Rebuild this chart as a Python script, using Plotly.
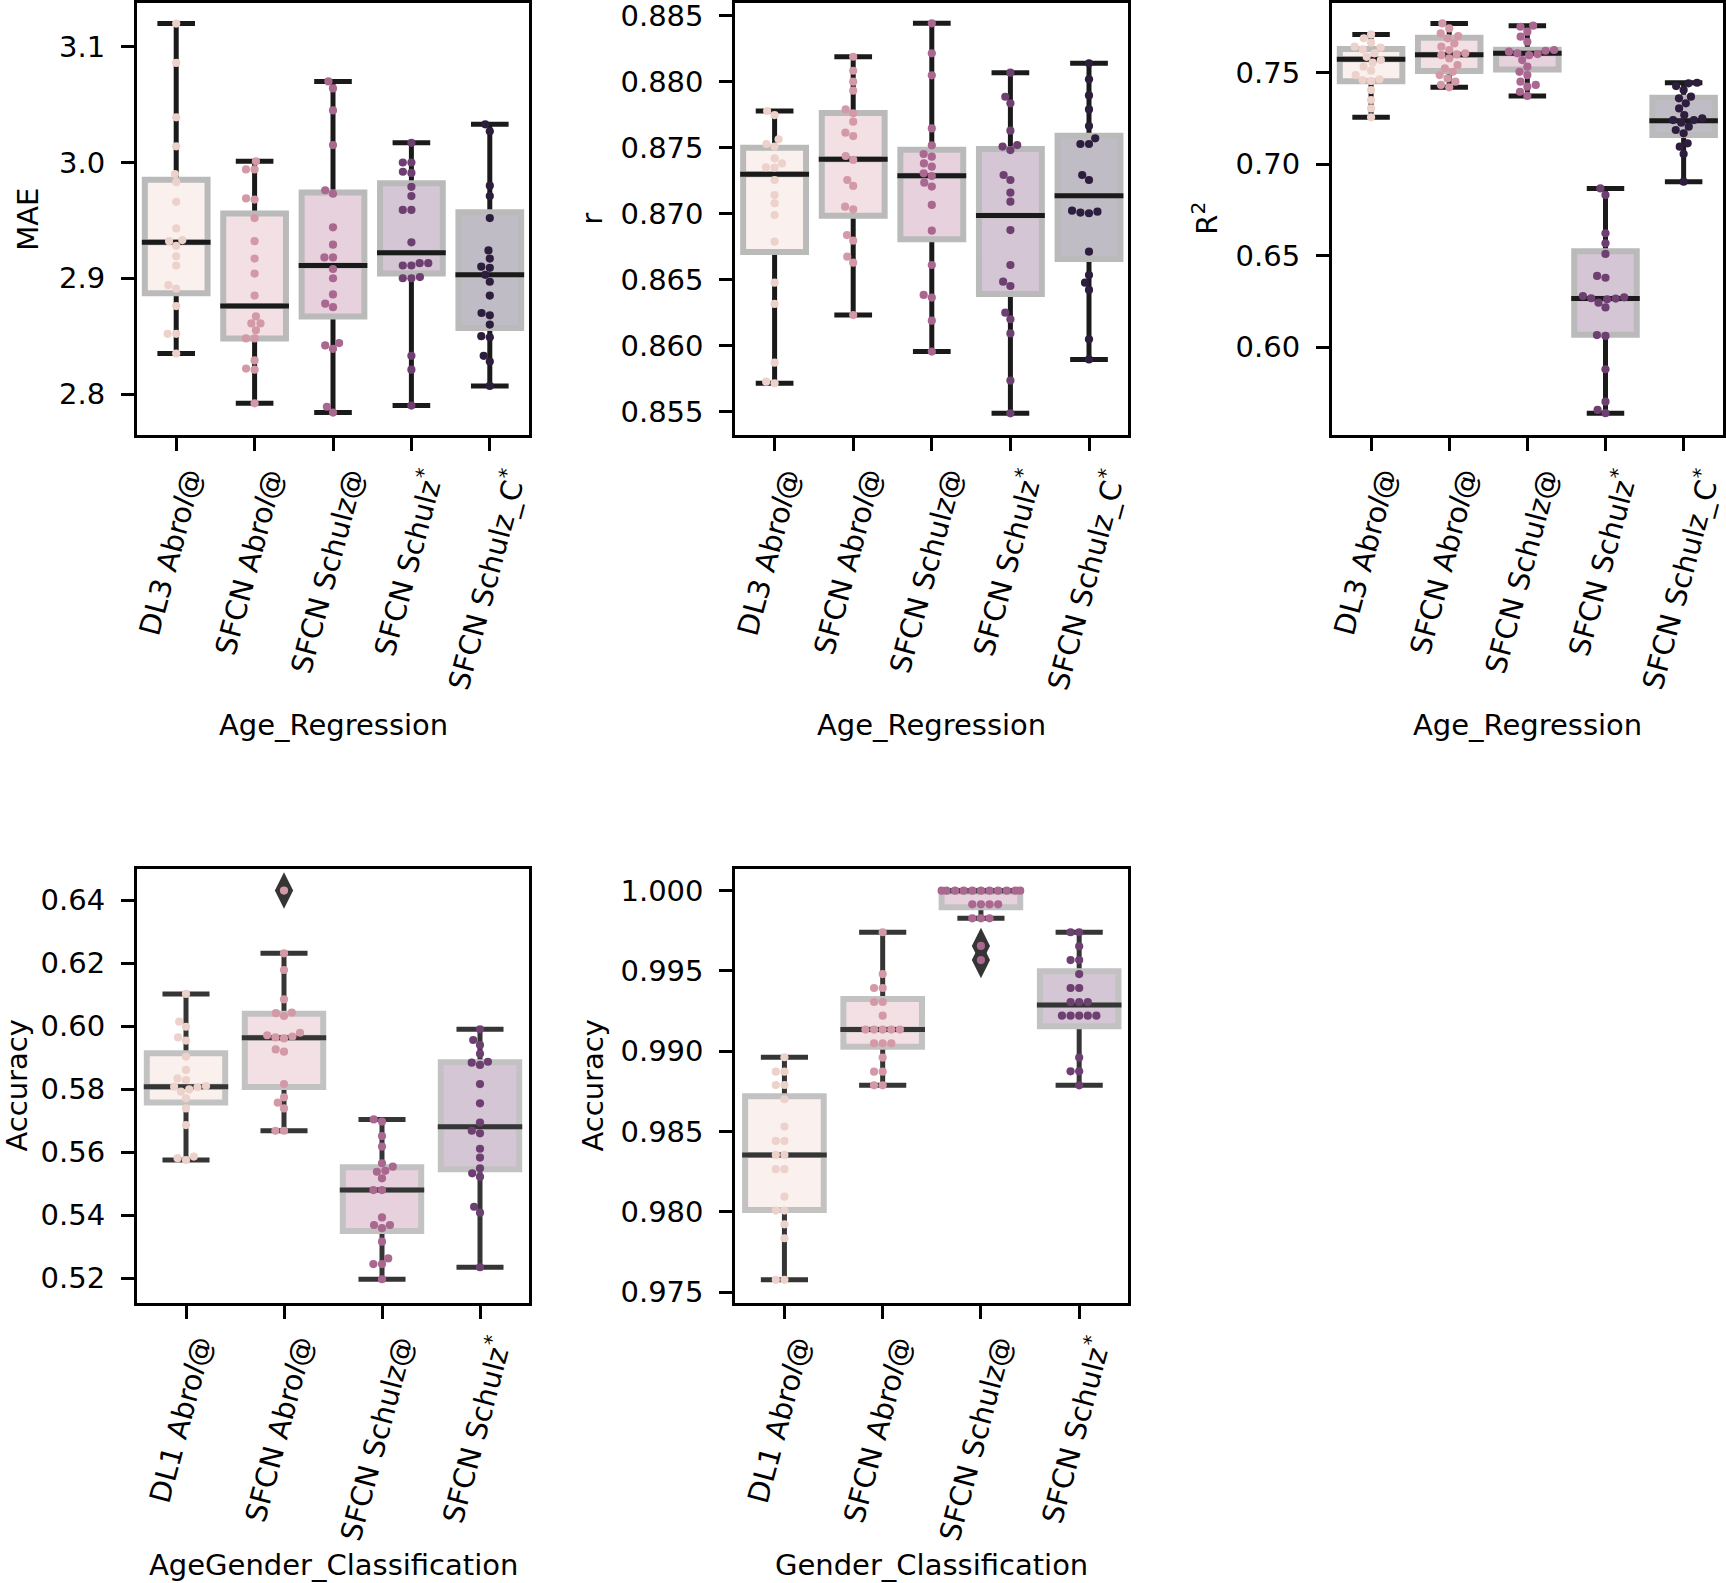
import numpy as np
import plotly.graph_objects as go

W, H = 1726, 1583
FONT = "DejaVu Sans"

# ---------------- category / tick labels ----------------
age_labels = ["DL3 Abro<i>l</i>@", "SFCN Abro<i>l</i>@", "SFCN Schulz@",
              "SFCN Schulz<sup>*</sup>", "SFCN Schulz_C<sup>*</sup>"]
ag_labels = ["DL1 Abro<i>l</i>@", "SFCN Abro<i>l</i>@", "SFCN Schulz@",
             "SFCN Schulz<sup>*</sup>"]
g_labels = ["DL1 Abro<i>l</i>@", "SFCN Abro<i>l</i>@", "SFCN Schulz@",
            "SFCN Schulz<sup>*</sup>"]

mae_ticks = [2.8, 2.9, 3.0, 3.1]
r_ticks = [0.855, 0.860, 0.865, 0.870, 0.875, 0.880, 0.885]
r2_ticks = [0.60, 0.65, 0.70, 0.75]
ag_ticks = [0.52, 0.54, 0.56, 0.58, 0.60, 0.62, 0.64]
g_ticks = [0.975, 0.980, 0.985, 0.990, 0.995, 1.000]

# ---------------- MAE (Age_Regression) ----------------
mae_dl3 = [3.120, 3.086, 3.039, 3.014, 2.990, 2.983, 2.966, 2.943, 2.933, 2.932,
           2.928, 2.919, 2.911, 2.894, 2.891, 2.876, 2.852, 2.852, 2.835]
mae_sfcn_abrol = [3.001, 2.994, 2.994, 2.969, 2.968, 2.952, 2.932, 2.917, 2.904, 2.885,
                  2.867, 2.861, 2.861, 2.855, 2.848, 2.848, 2.829, 2.822, 2.821, 2.792]
mae_sfcn_schulz_at = [3.070, 3.064, 3.045, 3.015, 2.976, 2.973, 2.944, 2.929, 2.918, 2.918,
                      2.908, 2.900, 2.886, 2.878, 2.875, 2.844, 2.842, 2.839, 2.789, 2.784]
mae_sfcn_schulz_star = [3.017, 3.000, 3.000, 2.992, 2.991, 2.979, 2.971, 2.959, 2.959, 2.931,
                        2.913, 2.913, 2.911, 2.911, 2.901, 2.900, 2.900, 2.833, 2.821, 2.790]
mae_sfcn_schulz_c = [3.033, 3.027, 2.980, 2.971, 2.952, 2.924, 2.917, 2.910, 2.909, 2.903,
                     2.897, 2.885, 2.870, 2.868, 2.860, 2.850, 2.849, 2.833, 2.828, 2.807]
mae_q1 = [2.887, 2.848, 2.867, 2.904, 2.857]
mae_med = [2.931, 2.876, 2.911, 2.922, 2.903]
mae_q3 = [2.985, 2.956, 2.974, 2.982, 2.957]
mae_lo = [2.835, 2.792, 2.784, 2.790, 2.807]
mae_hi = [3.120, 3.001, 3.070, 3.017, 3.033]

# ---------------- r (Age_Regression) ----------------
r_dl3 = [0.87778, 0.87747, 0.87563, 0.87528, 0.87508, 0.87419, 0.87381, 0.87351, 0.87349, 0.87255,
         0.87141, 0.87078, 0.86990, 0.86788, 0.86477, 0.86316, 0.85871, 0.85727, 0.85715]
r_sfcn_abrol = [0.88189, 0.88083, 0.88000, 0.87932, 0.87790, 0.87760, 0.87697, 0.87614, 0.87588, 0.87437,
                0.87407, 0.87255, 0.87210, 0.87053, 0.87033, 0.86838, 0.86795, 0.86674, 0.86629, 0.86232]
r_sfcn_schulz_at = [0.88442, 0.88215, 0.88048, 0.87646, 0.87518, 0.87452, 0.87432, 0.87381, 0.87356, 0.87306,
                    0.87285, 0.87235, 0.87205, 0.87066, 0.86871, 0.86611, 0.86384, 0.86364, 0.86189, 0.85955]
r_sfcn_schulz_star = [0.88068, 0.87886, 0.87836, 0.87629, 0.87520, 0.87508, 0.87482, 0.87293, 0.87255, 0.87159,
                      0.87091, 0.86876, 0.86611, 0.86485, 0.86452, 0.86250, 0.86200, 0.86093, 0.85735, 0.85487]
r_sfcn_schulz_c = [0.88139, 0.88018, 0.87896, 0.87790, 0.87664, 0.87571, 0.87528, 0.87528, 0.87293, 0.87255,
                   0.87023, 0.87015, 0.87008, 0.87003, 0.86712, 0.86535, 0.86477, 0.86422, 0.86048, 0.85896]
r_q1 = [0.86710, 0.86985, 0.86806, 0.86392, 0.86657]
r_med = [0.87298, 0.87412, 0.87288, 0.86987, 0.87136]
r_q3 = [0.87500, 0.87763, 0.87485, 0.87490, 0.87591]
r_lo = [0.85715, 0.86232, 0.85955, 0.85487, 0.85896]
r_hi = [0.87778, 0.88189, 0.88442, 0.88068, 0.88139]

# ---------------- R^2 (Age_Regression) ----------------
r2_dl3 = [0.7709, 0.7688, 0.7664, 0.7642, 0.7637, 0.7627, 0.7606, 0.7587, 0.7569, 0.7555,
          0.7533, 0.7511, 0.7487, 0.7464, 0.7460, 0.7454, 0.7405, 0.7351, 0.7305, 0.7256]
r2_sfcn_abrol = [0.7769, 0.7742, 0.7715, 0.7700, 0.7688, 0.7660, 0.7642, 0.7624, 0.7606, 0.7600,
                 0.7596, 0.7578, 0.7542, 0.7524, 0.7505, 0.7487, 0.7469, 0.7451, 0.7433, 0.7420]
r2_sfcn_schulz_at = [0.7757, 0.7751, 0.7724, 0.7697, 0.7669, 0.7624, 0.7620, 0.7615, 0.7606, 0.7602,
                     0.7596, 0.7569, 0.7533, 0.7505, 0.7487, 0.7451, 0.7433, 0.7424, 0.7396, 0.7373]
r2_sfcn_schulz_star = [0.6868, 0.6832, 0.6623, 0.6568, 0.6510, 0.6390, 0.6380, 0.6280, 0.6273, 0.6268,
                       0.6266, 0.6262, 0.6244, 0.6218, 0.6067, 0.6062, 0.5880, 0.5703, 0.5658, 0.5640]
r2_sfcn_schulz_c = [0.7445, 0.7442, 0.7427, 0.7405, 0.7369, 0.7360, 0.7333, 0.7305, 0.7269, 0.7251,
                    0.7241, 0.7241, 0.7227, 0.7205, 0.7187, 0.7169, 0.7114, 0.7096, 0.7056, 0.6905]
r2_q1 = [0.7453, 0.7509, 0.7518, 0.6069, 0.7160]
r2_med = [0.7573, 0.7598, 0.7606, 0.6266, 0.7238]
r2_q3 = [0.7629, 0.7691, 0.7626, 0.6524, 0.7363]
r2_lo = [0.7256, 0.7420, 0.7373, 0.5640, 0.6905]
r2_hi = [0.7709, 0.7769, 0.7757, 0.6868, 0.7445]

# ---------------- Accuracy (AgeGender_Classification) ----------------
ag_dl1 = [0.6102, 0.6014, 0.5998, 0.5964, 0.5954, 0.5903, 0.5861, 0.5834, 0.5829, 0.5810,
          0.5808, 0.5806, 0.5799, 0.5792, 0.5771, 0.5739, 0.5686, 0.5586, 0.5581, 0.5575]
ag_sfcn_abrol = [0.6430, 0.6231, 0.6178, 0.6085, 0.6043, 0.6041, 0.6032, 0.5979, 0.5971, 0.5967,
                 0.5964, 0.5961, 0.5926, 0.5919, 0.5816, 0.5774, 0.5757, 0.5739, 0.5668, 0.5668]
ag_sfcn_schulz_at = [0.5704, 0.5697, 0.5651, 0.5618, 0.5565, 0.5554, 0.5541, 0.5538, 0.5517, 0.5480,
                     0.5480, 0.5393, 0.5369, 0.5369, 0.5359, 0.5316, 0.5263, 0.5245, 0.5245, 0.5197]
ag_sfcn_schulz_star = [0.5990, 0.5956, 0.5940, 0.5912, 0.5887, 0.5884, 0.5877, 0.5816, 0.5755, 0.5694,
                       0.5668, 0.5660, 0.5611, 0.5583, 0.5549, 0.5533, 0.5522, 0.5427, 0.5408, 0.5235]
ag_q1 = [0.5758, 0.5807, 0.5350, 0.5546]
ag_med = [0.5808, 0.5963, 0.5480, 0.5681]
ag_q3 = [0.5914, 0.6039, 0.5552, 0.5885]
ag_lo = [0.5575, 0.5668, 0.5197, 0.5235]
ag_hi = [0.6102, 0.6231, 0.5704, 0.5990]

# ---------------- Accuracy (Gender_Classification) ----------------
g_dl1 = [0.98963, 0.98873, 0.98873, 0.98790, 0.98790, 0.98701, 0.98531, 0.98442, 0.98442, 0.98355,
         0.98355, 0.98266, 0.98266, 0.98095, 0.98008, 0.98008, 0.97923, 0.97836, 0.97577, 0.97577]
g_sfcn_abrol = [0.99741, 0.99481, 0.99394, 0.99394, 0.99307, 0.99307, 0.99222, 0.99135, 0.99135, 0.99135,
                0.99135, 0.99135, 0.99050, 0.99050, 0.99050, 0.98961, 0.98873, 0.98873, 0.98788, 0.98788]
g_sfcn_schulz_at = [1.00000, 1.00000, 1.00000, 1.00000, 1.00000, 1.00000, 1.00000, 1.00000, 1.00000, 1.00000,
                    1.00000, 0.99915, 0.99915, 0.99915, 0.99915, 0.99828, 0.99828, 0.99828, 0.99656, 0.99568]
g_sfcn_schulz_star = [0.99741, 0.99741, 0.99654, 0.99568, 0.99568, 0.99481, 0.99394, 0.99394, 0.99307, 0.99307,
                      0.99307, 0.99222, 0.99222, 0.99222, 0.99222, 0.99222, 0.98961, 0.98875, 0.98875, 0.98788]
g_q1 = [0.98012, 0.99029, 0.99896, 0.99156]
g_med = [0.98355, 0.99135, 1.00000, 0.99288]
g_q3 = [0.98720, 0.99326, 1.00000, 0.99498]
g_lo = [0.97577, 0.98788, 0.99828, 0.98788]
g_hi = [0.98963, 0.99741, 1.00000, 0.99741]

# ---------------- styling ----------------
palette = ["#edd1cb", "#d499a7", "#aa678f", "#6e4071", "#2d1e3e"]


def blend(hexc, a):
    rgb = [int(hexc[i:i + 2], 16) for i in (1, 3, 5)]
    return "rgb(%d,%d,%d)" % tuple(round(255 - a * (255 - c)) for c in rgb)


panels = [
    dict(series=[mae_dl3, mae_sfcn_abrol, mae_sfcn_schulz_at, mae_sfcn_schulz_star, mae_sfcn_schulz_c],
         q1=mae_q1, med=mae_med, q3=mae_q3, lo=mae_lo, hi=mae_hi, labels=age_labels,
         yr=[2.7646, 3.1382], ticks=mae_ticks, fmt="{:.1f}", ytitle="MAE", ytx=28,
         xtitle="Age_Regression", col=(137, 529), row=(2.5, 435), dark="#1a1a1a", edge="#bababa"),
    dict(series=[r_dl3, r_sfcn_abrol, r_sfcn_schulz_at, r_sfcn_schulz_star, r_sfcn_schulz_c],
         q1=r_q1, med=r_med, q3=r_q3, lo=r_lo, hi=r_hi, labels=age_labels,
         yr=[0.85323, 0.8860], ticks=r_ticks, fmt="{:.3f}", ytitle="r", ytx=592,
         xtitle="Age_Regression", col=(735.3, 1128.3), row=(2.5, 435), dark="#1a1a1a", edge="#bababa"),
    dict(series=[r2_dl3, r2_sfcn_abrol, r2_sfcn_schulz_at, r2_sfcn_schulz_star, r2_sfcn_schulz_c],
         q1=r2_q1, med=r2_med, q3=r2_q3, lo=r2_lo, hi=r2_hi, labels=age_labels,
         yr=[0.55209, 0.78835], ticks=r2_ticks, fmt="{:.2f}", ytitle="R<sup>2</sup>", ytx=1205,
         xtitle="Age_Regression", col=(1332, 1722.7), row=(2.5, 435), dark="#1a1a1a", edge="#bababa"),
    dict(series=[ag_dl1, ag_sfcn_abrol, ag_sfcn_schulz_at, ag_sfcn_schulz_star],
         q1=ag_q1, med=ag_med, q3=ag_q3, lo=ag_lo, hi=ag_hi, labels=ag_labels,
         yr=[0.51232, 0.6500], ticks=ag_ticks, fmt="{:.2f}", ytitle="Accuracy", ytx=16,
         xtitle="AgeGender_Classification", col=(137, 529), row=(868.5, 1302.5), dark="#353535", edge="#c2c2c2"),
    dict(series=[g_dl1, g_sfcn_abrol, g_sfcn_schulz_at, g_sfcn_schulz_star],
         q1=g_q1, med=g_med, q3=g_q3, lo=g_lo, hi=g_hi, labels=g_labels,
         yr=[0.97436, 1.00138], ticks=g_ticks, fmt="{:.3f}", ytitle="Accuracy", ytx=592,
         xtitle="Gender_Classification", col=(735.3, 1128.3), row=(868.5, 1302.5), dark="#353535", edge="#c2c2c2"),
]

DOT = 8.2
FS = 29


def swarm(vals, ppu_y, d, max_off):
    """seaborn-like beeswarm: returns horizontal pixel offsets."""
    vals = np.asarray(vals, float)
    order = np.argsort(vals, kind="stable")
    placed = []
    offs = np.zeros(len(vals))
    for idx in order:
        y = vals[idx] * ppu_y
        neigh = []
        for (px, py) in reversed(placed):
            if abs(y - py) < d:
                neigh.append((px, py))
            else:
                break
        cands = [0.0]
        left_first = True
        for (px, py) in neigh:
            dx = np.sqrt(max(d * d - (y - py) ** 2, 0.0)) * 1.05
            pair = [px - dx, px + dx] if left_first else [px + dx, px - dx]
            cands.extend(pair)
            left_first = not left_first
        cands = sorted(cands, key=abs)
        chosen = cands[-1]
        for c in cands:
            if all((c - px) ** 2 + (y - py) ** 2 >= d * d * 0.999 for (px, py) in neigh):
                chosen = c
                break
        chosen = float(np.clip(chosen, -max_off, max_off))
        offs[idx] = chosen
        placed.append((chosen, y))
    return offs


fig = go.Figure()
annotations = []
layout_axes = {}
tfont = dict(family=FONT, size=FS, color="black")

for i, P in enumerate(panels):
    sfx = "" if i == 0 else str(i + 1)
    xa, ya = "x" + sfx, "y" + sfx
    n = len(P["labels"])
    pos = list(range(n))
    x0, x1 = P["col"]
    y0, y1 = P["row"]
    ppu_x = (x1 - x0) / n
    ppu_y = (y1 - y0) / (P["yr"][1] - P["yr"][0])
    common = dict(xaxis=xa, yaxis=ya, showlegend=False, hoverinfo="skip", boxpoints=False)

    # whiskers + caps
    fig.add_trace(go.Box(x=pos, q1=P["med"], median=P["med"], q3=P["med"],
                         lowerfence=P["lo"], upperfence=P["hi"], width=0.8, whiskerwidth=0.6,
                         line=dict(color=P["dark"], width=5), fillcolor="rgba(0,0,0,0)", **common))
    # boxes
    for k in range(n):
        fig.add_trace(go.Box(x=[k], q1=[P["q1"][k]], median=[P["med"][k]], q3=[P["q3"][k]],
                             lowerfence=[P["q1"][k]], upperfence=[P["q3"][k]], width=0.8, whiskerwidth=0,
                             line=dict(color=P["edge"], width=6), fillcolor=blend(palette[k], 0.3), **common))
    # medians
    fig.add_trace(go.Box(x=pos, q1=P["med"], median=P["med"], q3=P["med"],
                         lowerfence=P["med"], upperfence=P["med"], width=0.8 + 6.0 / ppu_x, whiskerwidth=0,
                         line=dict(color=P["dark"], width=5), fillcolor="rgba(0,0,0,0)", **common))

    # outliers (diamonds)
    ox, oy = [], []
    for k, vals in enumerate(P["series"]):
        for v in vals:
            if v > P["hi"][k] + 1e-6 or v < P["lo"][k] - 1e-6:
                ox.append(k)
                oy.append(v)
    if ox:
        fig.add_trace(go.Scatter(x=ox, y=oy, mode="markers", xaxis=xa, yaxis=ya, showlegend=False,
                                 hoverinfo="skip",
                                 marker=dict(symbol="diamond-tall", size=26, color=P["dark"],
                                             line=dict(width=0))))
    # swarm points
    for k, vals in enumerate(P["series"]):
        offs = swarm(vals, ppu_y, DOT, 0.4 * ppu_x)
        fig.add_trace(go.Scatter(x=[k + o / ppu_x for o in offs], y=vals, mode="markers",
                                 xaxis=xa, yaxis=ya, showlegend=False, hoverinfo="skip",
                                 marker=dict(size=DOT, color=palette[k], line=dict(width=0))))

    axis_common = dict(ticks="outside", ticklen=13, tickwidth=2.5, tickcolor="black",
                       showline=True, mirror=True, linecolor="black", linewidth=3,
                       showgrid=False, zeroline=False, fixedrange=True, automargin=False)
    layout_axes["xaxis" + sfx] = dict(domain=[x0 / W, x1 / W], range=[-0.5, n - 0.5], anchor=ya,
                                      tickmode="array", tickvals=pos, showticklabels=False, **axis_common)
    layout_axes["yaxis" + sfx] = dict(domain=[1 - y1 / H, 1 - y0 / H], range=P["yr"], anchor=xa,
                                      tickmode="array", tickvals=P["ticks"],
                                      ticktext=[P["fmt"].format(v) for v in P["ticks"]],
                                      tickfont=tfont, ticklabelstandoff=10, ticklabeloverflow="allow",
                                      **axis_common)

    # rotated category labels
    for k, lab in enumerate(P["labels"]):
        annotations.append(dict(x=k, xref=xa, y=1 - (y1 + 28) / H, yref="paper", text=lab,
                                textangle=-75, xanchor="center", yanchor="top", xshift=-5,
                                showarrow=False, font=tfont))
    # axis titles
    annotations.append(dict(x=P["ytx"] / W, xref="paper", y=1 - (y0 + y1) / 2 / H, yref="paper",
                            text=P["ytitle"], textangle=-90, xanchor="center", yanchor="middle",
                            borderpad=0, showarrow=False, font=tfont))
    if y0 < 100:
        annotations.append(dict(x=(x0 + x1) / 2 / W, xref="paper", y=1 - 725.5 / H, yref="paper",
                                text=P["xtitle"], xanchor="center", yanchor="middle", showarrow=False,
                                font=tfont))
    else:
        annotations.append(dict(x=(x0 + x1) / 2 / W, xref="paper", y=0, yref="paper",
                                text=P["xtitle"], xanchor="center", yanchor="bottom", borderpad=0,
                                showarrow=False, font=tfont))

fig.update_layout(width=W, height=H, margin=dict(l=0, r=0, t=0, b=0, autoexpand=False),
                  paper_bgcolor="white", plot_bgcolor="white", boxmode="overlay",
                  showlegend=False, font=dict(family=FONT, color="black"),
                  annotations=annotations, **layout_axes)

fig.write_html("out.html")
